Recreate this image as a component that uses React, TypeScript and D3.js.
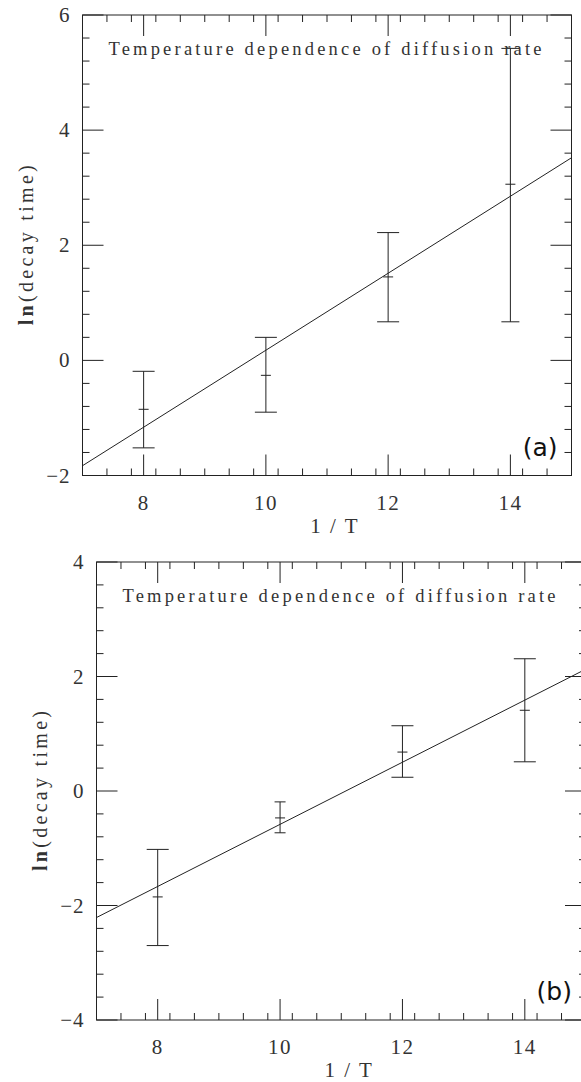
import React from "react";
import * as d3 from "d3";

const titleText = "Temperature dependence of diffusion rate";
const xPoints = [8, 10, 12, 14];
const xTickValues = [8, 10, 12, 14];

const centerA = [-0.85, -0.26, 1.45, 3.06];
const upperA = [-0.19, 0.4, 2.22, 5.42];
const lowerA = [-1.52, -0.9, 0.67, 0.67];
const fitXA = [7, 15];
const fitYA = [-1.83, 3.52];
const yTicksA = [-2, 0, 2, 4, 6];

const centerB = [-1.85, -0.47, 0.68, 1.41];
const upperB = [-1.02, -0.19, 1.14, 2.31];
const lowerB = [-2.7, -0.73, 0.24, 0.51];
const fitXB = [7, 15];
const fitYB = [-2.21, 2.13];
const yTicksB = [-4, -2, 0, 2, 4];

const capHalfA = [11, 11, 11, 9];
const capHalfB = [11, 5.5, 11, 11];

const SERIF = "'Liberation Serif', 'DejaVu Serif', serif";
const INK = "#222";

type PanelProps = {
  x0: number; x1: number; y0: number; y1: number;
  yDomain: [number, number];
  yTicks: number[];
  center: number[]; upper: number[]; lower: number[];
  fitX: number[]; fitY: number[];
  capHalf: number[];
  tag: string;
};

function Panel(p: PanelProps) {
  const x = d3.scaleLinear().domain([7, 15]).range([p.x0, p.x1]);
  const y = d3.scaleLinear().domain(p.yDomain).range([p.y1, p.y0]);
  const minorX = d3.range(7, 15.001, 0.4).map((v) => +v.toFixed(2)).filter((v) => !xTickValues.includes(v));
  const minorY = d3.range(p.yDomain[0], p.yDomain[1] + 0.001, 0.4).map((v) => +v.toFixed(2)).filter((v) => !p.yTicks.includes(v));
  const maj = 21, mn = 7;
  const line = d3.line<[number, number]>().x((d) => x(d[0])).y((d) => y(d[1]));
  const fitPts: [number, number][] = p.fitX.map((v, i) => [v, p.fitY[i]]);
  const tickEls: React.ReactNode[] = [];
  xTickValues.forEach((v, i) => {
    tickEls.push(<line key={"xb" + i} x1={x(v)} x2={x(v)} y1={p.y1} y2={p.y1 - maj} />);
    tickEls.push(<line key={"xt" + i} x1={x(v)} x2={x(v)} y1={p.y0} y2={p.y0 + maj} />);
  });
  minorX.forEach((v, i) => {
    tickEls.push(<line key={"mxb" + i} x1={x(v)} x2={x(v)} y1={p.y1} y2={p.y1 - mn} />);
    tickEls.push(<line key={"mxt" + i} x1={x(v)} x2={x(v)} y1={p.y0} y2={p.y0 + mn} />);
  });
  p.yTicks.forEach((v, i) => {
    tickEls.push(<line key={"yl" + i} x1={p.x0} x2={p.x0 + maj} y1={y(v)} y2={y(v)} />);
    tickEls.push(<line key={"yr" + i} x1={p.x1} x2={p.x1 - maj} y1={y(v)} y2={y(v)} />);
  });
  minorY.forEach((v, i) => {
    tickEls.push(<line key={"myl" + i} x1={p.x0} x2={p.x0 + mn} y1={y(v)} y2={y(v)} />);
    tickEls.push(<line key={"myr" + i} x1={p.x1} x2={p.x1 - mn} y1={y(v)} y2={y(v)} />);
  });
  const cx = (p.x0 + p.x1) / 2;
  const cy = (p.y0 + p.y1) / 2;
  return (
    <g>
      <g stroke={INK} strokeWidth={1} fill="none">
        <rect x={p.x0} y={p.y0} width={p.x1 - p.x0} height={p.y1 - p.y0} />
        {tickEls}
        <path d={line(fitPts) || ""} />
        {xPoints.map((v, i) => (
          <g key={"eb" + i}>
            <line x1={x(v)} x2={x(v)} y1={y(p.upper[i])} y2={y(p.lower[i])} />
            <line x1={x(v) - p.capHalf[i]} x2={x(v) + p.capHalf[i]} y1={y(p.upper[i])} y2={y(p.upper[i])} />
            <line x1={x(v) - p.capHalf[i]} x2={x(v) + p.capHalf[i]} y1={y(p.lower[i])} y2={y(p.lower[i])} />
            <line x1={x(v) - 5} x2={x(v) + 5} y1={y(p.center[i])} y2={y(p.center[i])} />
          </g>
        ))}
      </g>
      <g fill="#333" fontFamily={SERIF} fontSize={21}>
        {xTickValues.map((v, i) => (
          <text key={"xl" + i} x={x(v)} y={p.y1 + 34} textAnchor="middle" letterSpacing={1.5}>{v}</text>
        ))}
        {p.yTicks.map((v, i) => (
          <text key={"yl" + i} x={p.x0 - 12} y={y(v) + 7} textAnchor="end" letterSpacing={1}>{v < 0 ? "\u2212" + Math.abs(v) : String(v)}</text>
        ))}
        <text x={cx + 8} y={p.y1 + 57} textAnchor="middle" fontSize={21} letterSpacing={2}>1 / T</text>
        <text transform={`translate(${p.x0 - 50},${cy}) rotate(-90)`} textAnchor="middle" fontSize={20} textLength={160} lengthAdjust="spacing">
          <tspan fontWeight="bold">ln</tspan>(decay time)
        </text>
        <text x={p.x0 + 26} y={p.y0 + 40} fontSize={18.5} textLength={433} lengthAdjust="spacing">{titleText}</text>
      </g>
      <text x={p.x1 - 14} y={p.y1 - 20} textAnchor="end" fontFamily="'DejaVu Sans', sans-serif" fontSize={25} fill="#111">{p.tag}</text>
    </g>
  );
}

export default function App() {
  return (
    <svg width={581} height={1082} style={{ position: "absolute", left: 0, top: 0, background: "#fff" }}>
      <rect width={581} height={1082} fill="#fff" />
      <Panel x0={82.5} x1={571.5} y0={15} y1={475.5} yDomain={[-2, 6]} yTicks={yTicksA}
        center={centerA} upper={upperA} lower={lowerA} fitX={fitXA} fitY={fitYA} capHalf={capHalfA} tag="(a)" />
      <Panel x0={96.5} x1={586} y0={562} y1={1020} yDomain={[-4, 4]} yTicks={yTicksB}
        center={centerB} upper={upperB} lower={lowerB} fitX={fitXB} fitY={fitYB} capHalf={capHalfB} tag="(b)" />
    </svg>
  );
}
